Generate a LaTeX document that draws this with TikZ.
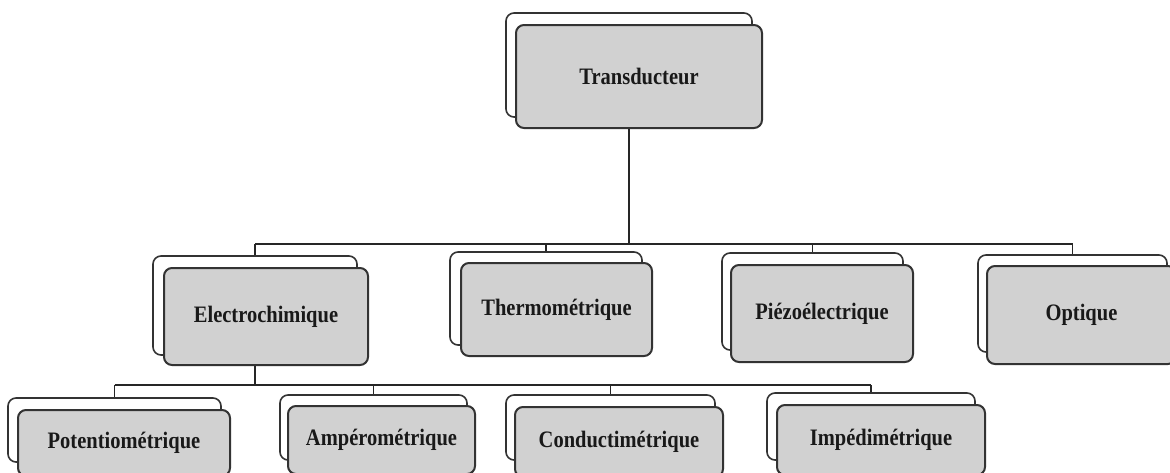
\documentclass[tikz,border=0pt]{standalone}
\usepackage{fontspec}
\setmainfont{Liberation Serif}

\newcommand{\boxtext}[1]{\scalebox{1}[1.15]{#1}}

\tikzset{
  backbox/.style={draw=black!80, line width=1.6pt, fill=white, rounded corners=8pt},
  frontbox/.style={draw=black!80, line width=2pt, fill=black!18, rounded corners=8pt,
    font=\bfseries\fontsize{20.5}{24}\selectfont, text=black!90},
  link/.style={draw=black!85, line width=1.8pt}
}

\begin{document}
\begin{tikzpicture}[x=1pt, y=-1pt]
        \useasboundingbox (0,0) rectangle (1170,472);
        \clip (0,0) rectangle (1170,472);

        % niveau 1
        \node[backbox, minimum width=246pt, minimum height=104pt] (transB) at (629,65) {};
        \node[frontbox, minimum width=246pt, minimum height=103pt] (trans) at (639,76.5) {\boxtext{Transducteur}};

        % niveau 2
        \node[backbox, minimum width=204pt, minimum height=99pt] (elecB) at (255,305.5) {};
        \node[frontbox, minimum width=204pt, minimum height=97pt] (elec) at (266,316.5) {\boxtext{Electrochimique}};

        \node[backbox, minimum width=192pt, minimum height=93pt] (thermoB) at (546,298.5) {};
        \node[frontbox, minimum width=191pt, minimum height=93pt] (thermo) at (556.5,309.5) {\boxtext{Thermométrique}};

        \node[backbox, minimum width=181pt, minimum height=97pt] (piezoB) at (812.5,301.5) {};
        \node[frontbox, minimum width=182pt, minimum height=97pt] (piezo) at (822,313.5) {\boxtext{Piézoélectrique}};

        \node[backbox, minimum width=189pt, minimum height=97pt] (optB) at (1072.5,303.5) {};
        \node[frontbox, minimum width=189pt, minimum height=98pt] (opt) at (1081.5,315) {\boxtext{Optique}};

        % niveau 3
        \node[backbox, minimum width=213pt, minimum height=64pt] (potB) at (114.5,430) {};
        \node[frontbox, minimum width=212pt, minimum height=66pt] (pot) at (124,443) {\boxtext{Potentiométrique}};

        \node[backbox, minimum width=187pt, minimum height=65pt] (ampB) at (373.5,427.5) {};
        \node[frontbox, minimum width=187pt, minimum height=68pt] (amp) at (381.5,440) {\boxtext{Ampérométrique}};

        \node[backbox, minimum width=209pt, minimum height=65pt] (condB) at (610.5,427.5) {};
        \node[frontbox, minimum width=208pt, minimum height=70pt] (cond) at (619,442) {\boxtext{Conductimétrique}};

        \node[backbox, minimum width=208pt, minimum height=67pt] (impB) at (871,426.5) {};
        \node[frontbox, minimum width=208pt, minimum height=70pt] (imp) at (881,440) {\boxtext{Impédimétrique}};

        % liaisons
        \coordinate (busA) at (0,244);
        \coordinate (busB) at (0,385);

        \draw[link] (transB.south |- trans.south) -- (transB.south |- busA);
        \draw[link] (elecB.north |- busA) -- (optB.north |- busA);
        \foreach \n in {elecB, thermoB, piezoB, optB}
            \draw[link] (\n.north |- busA) -- (\n.north);

        \draw[link] (elecB.south |- elec.south) -- (elecB.south |- busB);
        \draw[link] (potB.north |- busB) -- (impB.north |- busB);
        \foreach \n in {potB, ampB, condB, impB}
            \draw[link] (\n.north |- busB) -- (\n.north);

\end{tikzpicture}
\end{document}
